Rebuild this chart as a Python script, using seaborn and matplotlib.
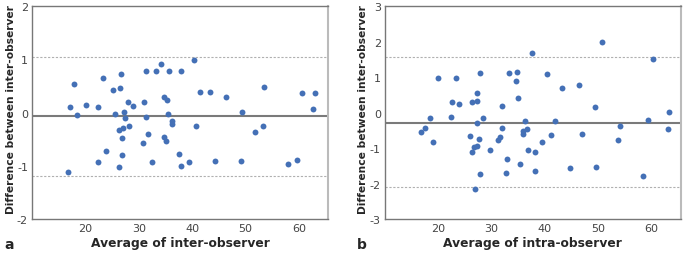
import numpy as np
import pandas as pd
import matplotlib
matplotlib.use("Agg")
import matplotlib.pyplot as plt
import seaborn as sns

# panel a: inter-observer
inter_avg = [17.0, 17.9, 18.4, 16.7, 20.0, 22.4, 22.4, 23.3, 23.8, 25.1, 25.6, 26.2,
             26.2, 26.5, 26.7, 26.8, 26.8, 27.0, 27.2, 27.4, 28.0, 28.2, 28.9, 30.9,
             30.8, 31.4, 31.3, 31.75, 32.5, 33.2, 34.25, 34.7, 34.7, 35.1, 35.2, 35.5,
             35.6, 36.3, 36.3, 37.6, 37.9, 37.9, 39.4, 40.3, 40.8, 41.5, 43.3, 44.3,
             46.4, 49.1, 49.4, 51.75, 53.25, 53.4, 57.9, 59.7, 60.6, 62.75, 63.1]
inter_diff = [0.11, 0.54, -0.05, -1.11, 0.14, 0.10, -0.93, 0.65, -0.73, 0.43, -0.03, -0.33,
              -1.03, 0.47, 0.73, -0.48, -0.79, -0.28, 0.02, -0.10, 0.20, -0.26, 0.13, 0.20,
              -0.58, -0.08, 0.78, -0.41, -0.93, 0.78, 0.91, 0.30, -0.46, -0.54, 0.23, -0.02,
              0.78, -0.16, -0.22, -0.78, -1.00, 0.79, -0.93, 0.99, -0.25, 0.38, 0.38, -0.91,
              0.30, -0.90, 0.02, -0.36, -0.26, 0.48, -0.97, -0.89, 0.37, 0.06, 0.36]
inter_mean, inter_upper, inter_lower = -0.07, 1.045, -1.20

# panel b: intra-observer
intra_avg = [16.75, 17.6, 18.5, 19.1, 19.9, 22.3, 22.6, 23.25, 23.8, 25.9, 26.4, 26.4,
             26.75, 26.9, 27.25, 27.25, 27.3, 27.3, 27.7, 27.8, 27.8, 28.4, 29.75, 31.2,
             31.6, 32.0, 32.0, 32.7, 32.9, 33.3, 35.4, 34.5, 34.7, 34.9, 35.8, 35.9,
             36.25, 36.7, 36.9, 37.6, 38.1, 38.2, 39.5, 40.4, 41.1, 41.9, 43.25, 44.7,
             46.3, 46.9, 49.4, 49.5, 50.75, 53.7, 54.0, 58.4, 59.4, 60.2, 63.1, 63.3]
intra_diff = [-0.54, -0.43, -0.16, -0.83, 0.97, -0.13, 0.29, 0.97, 0.24, -0.66, 0.29, -1.11,
              -0.97, -2.14, -0.94, -0.30, 0.56, 0.34, -0.73, 1.12, -1.73, -0.14, -1.04, -0.77,
              -0.68, 0.20, -0.44, -1.70, -1.32, 1.12, -1.44, 0.90, 1.14, 0.41, -0.59, -0.53,
              -0.24, -0.47, -1.04, 1.67, -1.12, -1.65, -0.84, 1.10, -0.64, -0.25, 0.68, -1.55,
              0.79, -0.60, 0.17, -1.52, 2.00, -0.78, -0.37, -1.78, -0.21, 1.51, -0.46, 0.03]
intra_mean, intra_upper, intra_lower = -0.28, 1.57, -2.11

sns.set_style("white")
plt.rcParams['font.family'] = ['DejaVu Sans']

fig = plt.figure(figsize=(6.85, 2.55), dpi=100)
ax1 = fig.add_axes([0.047, 0.137, 0.432, 0.835])
ax2 = fig.add_axes([0.562, 0.137, 0.432, 0.835])

panels = [
    (ax1, inter_avg, inter_diff, inter_mean, inter_upper, inter_lower,
     [-2, -1, 0, 1, 2], "Average of inter-observer", "a"),
    (ax2, intra_avg, intra_diff, intra_mean, intra_upper, intra_lower,
     [-3, -2, -1, 0, 1, 2, 3], "Average of intra-observer", "b"),
]

for ax, xs, ys, m, up, lo, yt, xlab, letter in panels:
    df = pd.DataFrame({"avg": xs, "diff": ys})
    sns.scatterplot(data=df, x="avg", y="diff", ax=ax, color="#4470b6",
                    s=18, linewidth=0, zorder=3)
    ax.axhline(m, color="#7a7a7a", lw=1.5, zorder=2)
    ax.axhline(up, color="#b0b0b0", lw=0.8, ls=(0, (2, 1.5)), zorder=1)
    ax.axhline(lo, color="#b0b0b0", lw=0.8, ls=(0, (2, 1.5)), zorder=1)
    ax.set_xlim(10, 65.5)
    ax.set_ylim(yt[0], yt[-1])
    ax.set_yticks(yt)
    ax.set_yticklabels([str(v) for v in yt])
    ax.set_xticks([20, 30, 40, 50, 60])
    ax.tick_params(length=0, labelsize=8, labelcolor="#444444", pad=3)
    ax.set_xlabel(xlab, fontsize=8.8, fontweight="bold", labelpad=2)
    ax.set_ylabel("Difference between inter-observer", fontsize=7.7,
                  fontweight="bold", va="center")
    ax.yaxis.set_label_coords(-0.073, 0.52)
    for side in ["top", "left", "bottom"]:
        ax.spines[side].set_color("#777777")
        ax.spines[side].set_linewidth(1.0)
    ax.spines["right"].set_color("#bbbbbb")
    ax.spines["right"].set_linewidth(1.5)
    bb = ax.get_position()
    fig.text(bb.x0 - 0.041, 0.025, letter, fontsize=10, fontweight="bold")

fig.savefig("out.png", dpi=100)
